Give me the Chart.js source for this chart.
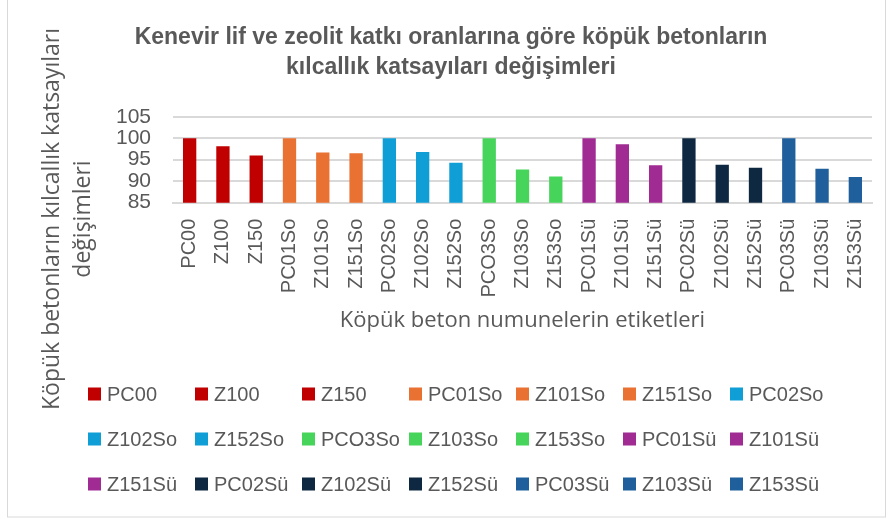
<!DOCTYPE html>
<html>
<head>
<meta charset="utf-8">
<script src="https://cdn.jsdelivr.net/npm/chart.js@4.4.1/dist/chart.umd.min.js"></script>
<style>
  html, body { margin: 0; padding: 0; background: #fff; }
  #wrap { width: 891px; height: 519px; position: relative; }
</style>
</head>
<body>
<div id="wrap"><canvas id="chart" width="891" height="519"></canvas></div>
<script>
// sample labels (x axis categories, also legend entries)
const labels = [
    'PC00', 'Z100', 'Z150',
    'PC01So', 'Z101So', 'Z151So',
    'PC02So', 'Z102So', 'Z152So',
    'PCO3So', 'Z103So', 'Z153So',
    'PC01Sü', 'Z101Sü', 'Z151Sü',
    'PC02Sü', 'Z102Sü', 'Z152Sü',
    'PC03Sü', 'Z103Sü', 'Z153Sü'
];

// capillarity coefficient change
const values = [
    100, 98.1, 96.0,
    100, 96.7, 96.5,
    100, 96.8, 94.3,
    100, 92.7, 91.1,
    100, 98.6, 93.7,
    100, 93.8, 93.1,
    100, 92.9, 91.0
];

// one colour per group of three bars
const groupColors = ['#C00000', '#E97132', '#0F9ED5', '#47D45A', '#A02B93', '#0E2841', '#1F5F9B'];

const yTicks = [85, 90, 95, 100, 105];
const yTitle = ['Köpük betonların kılcallık katsayıları', 'değişimleri'];

const textColor = '#595959';
const gridColor = '#D9D9D9';

// every bar is its own dataset so the legend lists all 21
const datasets = labels.map((name, i) => ({
    label: name,
    data: labels.map((_, j) => (j === i ? values[i] : null)),
    backgroundColor: groupColors[Math.floor(i / 3)],
    grouped: false,
    barPercentage: 0.4,
    categoryPercentage: 1.0
}));

/**
 * Legend drawn as a grid of 7 columns, like the original
 */
const gridLegend = {
    id: 'gridLegend',
    afterDraw: (chart) => {
        const ctx = chart.ctx;
        const cols = 7;
        const x0 = 88, dx = 107;
        const y0 = 394, dy = 45;
        const box = 13;
        ctx.save();
        ctx.font = '20px "Liberation Sans", sans-serif';
        ctx.textBaseline = 'middle';
        ctx.textAlign = 'left';
        chart.data.datasets.forEach((ds, i) => {
            const x = x0 + (i % cols) * dx;
            const y = y0 + Math.floor(i / cols) * dy;
            ctx.fillStyle = ds.backgroundColor;
            ctx.fillRect(x, y - box / 2, box, box);
            ctx.fillStyle = textColor;
            ctx.fillText(ds.label, x + box + 6, y + 1);
        });
        ctx.restore();
    }
};

/**
 * Y axis title, centred on the whole chart height (as in the original)
 */
const sideTitle = {
    id: 'sideTitle',
    afterDraw: (chart) => {
        const ctx = chart.ctx;
        ctx.save();
        ctx.translate(0, 219);
        ctx.rotate(-Math.PI / 2);
        ctx.font = '23px "Open Sans", sans-serif';
        ctx.fillStyle = textColor;
        ctx.textAlign = 'center';
        ctx.textBaseline = 'middle';
        ctx.fillText(yTitle[0], 0, 52);
        ctx.fillText(yTitle[1], 0, 83);
        ctx.restore();
    }
};

/**
 * White background and light frame
 */
const frame = {
    id: 'frame',
    beforeDraw: (chart) => {
        const ctx = chart.ctx;
        ctx.save();
        ctx.fillStyle = '#fff';
        ctx.fillRect(0, 0, chart.width, chart.height);
        ctx.strokeStyle = gridColor;
        ctx.lineWidth = 1;
        ctx.strokeRect(7.5, -1, 878, 518);
        ctx.restore();
    }
};

new Chart(document.getElementById('chart').getContext('2d'), {
    type: 'bar',
    data: { labels: labels, datasets: datasets },
    options: {
        responsive: false,
        animation: false,
        layout: {
            padding: { top: 0, left: 30, right: 19, bottom: 185 }
        },
        plugins: {
            legend: { display: false },
            tooltip: { enabled: false },
            title: {
                display: true,
                text: [
                    'Kenevir lif ve zeolit katkı oranlarına göre köpük betonların',
                    'kılcallık katsayıları değişimleri'
                ],
                color: textColor,
                font: { family: '"Liberation Sans", sans-serif', size: 23, weight: 'bold', lineHeight: 1.32 },
                padding: { top: 22, bottom: 34 }
            }
        },
        scales: {
            x: {
                grid: { display: false },
                border: { color: gridColor, width: 2 },
                ticks: {
                    color: textColor,
                    font: { family: '"Liberation Sans", sans-serif', size: 20 },
                    minRotation: 90,
                    maxRotation: 90,
                    autoSkip: false,
                    padding: 8
                },
                title: {
                    display: true,
                    text: 'Köpük beton numunelerin etiketleri',
                    color: textColor,
                    font: { family: '"Open Sans", sans-serif', size: 22 },
                    padding: { top: 2, bottom: 0 }
                }
            },
            y: {
                min: 85,
                max: 105,
                afterBuildTicks: (axis) => {
                    axis.ticks = yTicks.map(v => ({ value: v }));
                },
                // leave room on the left for the two-line side title
                afterFit: (axis) => {
                    axis.width = 143;
                },
                grid: { color: gridColor, lineWidth: 2, drawTicks: false },
                border: { display: false },
                ticks: {
                    color: textColor,
                    font: { family: '"Liberation Sans", sans-serif', size: 21 },
                    autoSkip: false,
                    padding: 22
                }
            }
        }
    },
    plugins: [frame, gridLegend, sideTitle]
});
</script>
</body>
</html>
